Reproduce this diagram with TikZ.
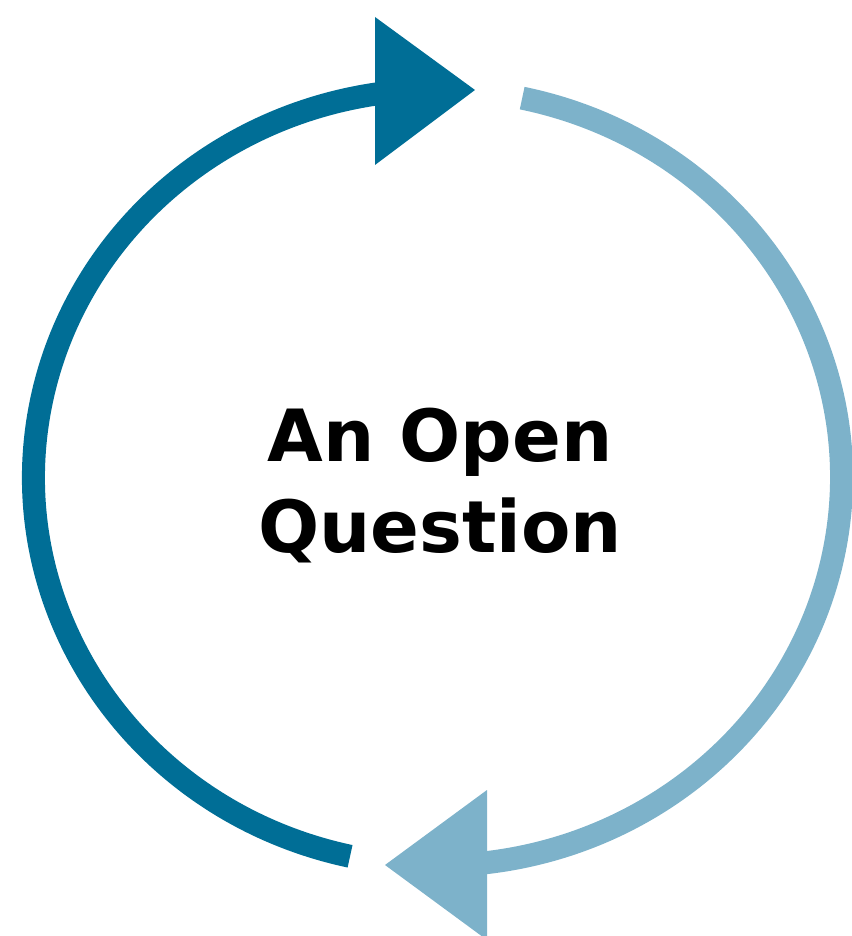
\documentclass[tikz,border=0pt]{standalone}
\usepackage{fontspec}
\setmainfont{DejaVu Sans}
\usetikzlibrary{calc}
\definecolor{cycdark}{RGB}{0,110,150}
\definecolor{cyclight}{RGB}{125,178,202}

\begin{document}
\begin{tikzpicture}[x=1pt,y=1pt,line cap=butt,line join=miter
  ,inner sep=0pt,outer sep=0pt]
\def\lw{23}
\def\rx{404}
\def\ry{388}
\useasboundingbox (-437.5,-458.5) rectangle (413.5,477.5);
\draw[line width=\lw,cycdark] (257.5:404 and 388) coordinate (D0)
  arc[start angle=257.5,end angle=97.5,x radius=\rx,y radius=\ry] coordinate (D1);
\fill[cycdark] (-62.5,460.5) -- (37.5,387.5) coordinate (Dtip) -- (-62.5,312.5) -- cycle;
\draw[line width=\lw,cyclight] (77.9:404 and 388) coordinate (L0)
  arc[start angle=77.9,end angle=-84,x radius=\rx,y radius=\ry] coordinate (L1);
\fill[cyclight] (49.5,-312.5) -- (-52.5,-387.5) coordinate (Ltip) -- (49.5,-462.5) -- cycle;
\node[font=\fontsize{72}{91}\bfseries\selectfont,align=center,anchor=base]
  (question) at (2.5,-75.5) {An Open\\Question};
\end{tikzpicture}
\end{document}
